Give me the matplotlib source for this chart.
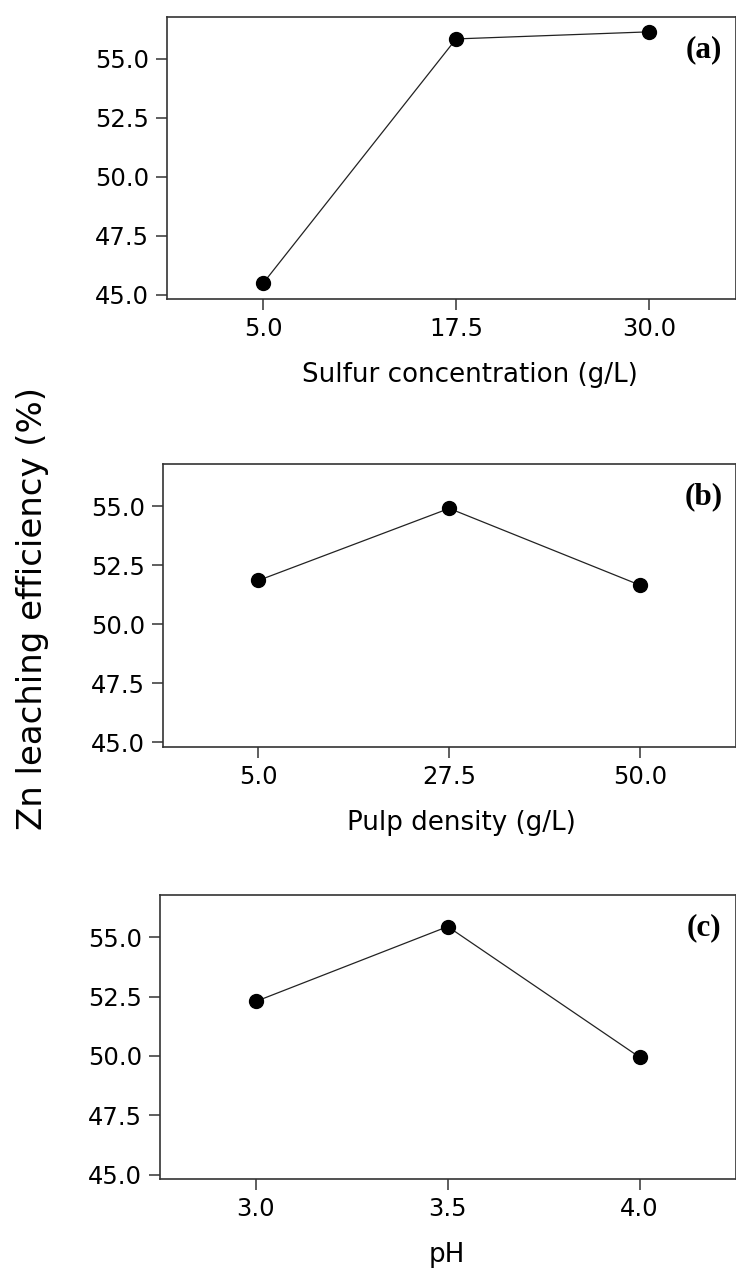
import matplotlib
matplotlib.use("Agg")
import matplotlib.pyplot as plt

# factor levels (shown as categories) and mean Zn leaching efficiency (%)
sulfur_levels = ["5.0", "17.5", "30.0"]
sulfur_eff = [45.5, 55.85, 56.15]

pulp_levels = ["5.0", "27.5", "50.0"]
pulp_eff = [51.85, 54.9, 51.65]

ph_levels = ["3.0", "3.5", "4.0"]
ph_eff = [52.3, 55.45, 49.95]

yticks = [45.0, 47.5, 50.0, 52.5, 55.0]

W, H = 736, 1269
fig = plt.figure(figsize=(W / 100, H / 100), dpi=100)
plt.rcParams['font.family'] = 'DejaVu Sans'

# (left, top, bottom) in pixels, right edge of every panel at the image edge
panels = [
    (sulfur_levels, sulfur_eff, "Sulfur concentration (g/L)", "(a)", (167, 17, 299), 2.45, 470),
    (pulp_levels, pulp_eff, "Pulp density (g/L)", "(b)", (163, 464, 746.5), 2.5, 461),
    (ph_levels, ph_eff, "pH", "(c)", (160, 895, 1179), 2.5, 447),
]

for levels, eff, xlabel, tag, (l, t, b), xmax, xlab_x in panels:
    r = 735.5
    ax = fig.add_axes([l / W, 1 - b / H, (r - l) / W, (b - t) / H])
    x = range(len(levels))
    ax.plot(x, eff, color="#222222", lw=0.9, marker="o", ms=10,
            mfc="black", mec="black")
    ax.set_xlim(-0.5, xmax)
    ax.set_ylim(44.82, 56.78)
    ax.set_xticks(list(x))
    ax.set_xticklabels(levels)
    ax.set_yticks(yticks)
    ax.set_yticklabels(["%.1f" % v for v in yticks])
    ax.tick_params(direction="out", length=8, width=1.1, labelsize=17.5,
                   color="#333333", pad=5)
    for sp in ax.spines.values():
        sp.set_linewidth(1.2)
        sp.set_color("#333333")
    ax.set_xlabel(xlabel, fontsize=18.8, va="baseline")
    ax.xaxis.set_label_coords((xlab_x - l) / (r - l), -83.5 / (b - t))
    ax.text(0.945, 1 - 33 / (b - t), tag, transform=ax.transAxes,
            ha="center", va="center", fontsize=22.5, fontweight="bold",
            family="Liberation Serif")

fig.text(33 / W, 1 - 609 / H, "Zn leaching efficiency (%)", rotation=90,
         ha="center", va="center", fontsize=24.5)

fig.savefig("out.png", dpi=100)
